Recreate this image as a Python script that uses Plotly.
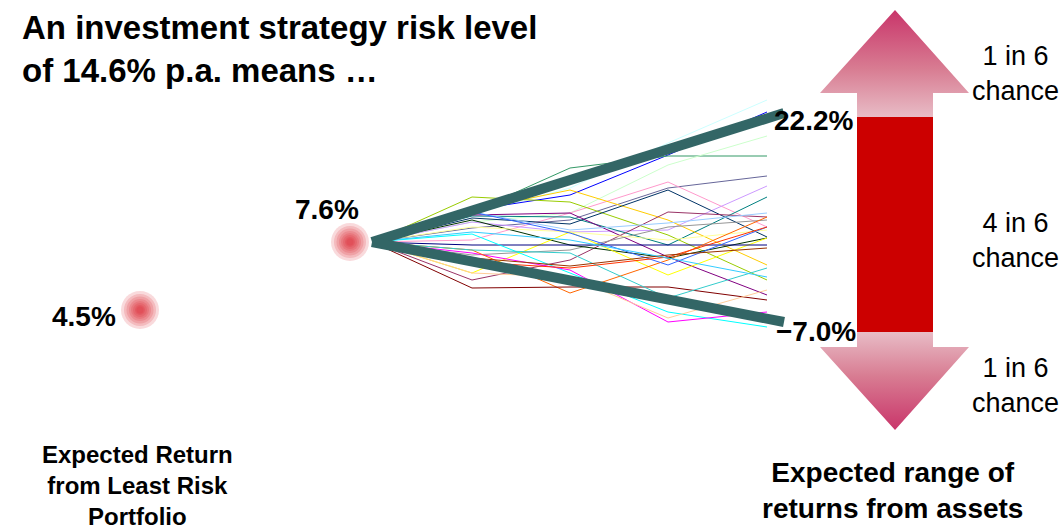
import plotly.graph_objects as go

# ---- data (canvas units: x right, y down) ----
fan_x = [372, 472, 570, 668, 767]
fan_paths = {
    "#CCFFFF": [242, 214, 188, 143, 100],
    "#0000FF": [242, 210, 195, 155, 112],
    "#339966": [242, 212, 168, 156, 156],
    "#CCFFCC": [242, 222, 213, 165, 136],
    "#666699": [242, 228, 220, 188, 176],
    "#FF99CC": [242, 240, 213, 182, 227],
    "#CC99FF": [242, 222, 232, 230, 186],
    "#008080": [242, 216, 217, 245, 197],
    "#99CC00": [242, 197, 202, 235, 280],
    "#FFCC00": [242, 210, 190, 220, 265],
    "#003366": [242, 218, 224, 190, 237],
    "#800080": [242, 215, 213, 257, 295],
    "#993366": [242, 280, 260, 212, 217],
    "#99CCFF": [242, 212, 230, 223, 213],
    "#969696": [242, 255, 250, 227, 220],
    "#003300": [242, 220, 245, 258, 238],
    "#FFFF00": [242, 273, 232, 275, 238],
    "#FFFF99": [242, 227, 232, 240, 230],
    "#000080": [242, 245, 245, 245, 245],
    "#00FFFF": [242, 234, 273, 312, 327],
    "#FF00FF": [242, 253, 270, 322, 312],
    "#FF6600": [242, 250, 293, 260, 217],
    "#800000": [242, 288, 287, 287, 300],
    "#FFCC99": [242, 273, 277, 318, 290],
    "#3366FF": [242, 212, 233, 265, 227],
    "#33CCCC": [242, 250, 253, 298, 268],
    "#FF3300": [242, 262, 268, 257, 227],
    "#993300": [242, 258, 266, 255, 248],
    "#33CCFF": [242, 232, 240, 258, 277],
}
band_x = [372, 784]
band_upper = [242, 113]
band_lower = [242, 322]

points_x = [140, 350]
points_y = [310, 242]
point_labels = ["4.5%", "7.6%"]

band_labels = ["22.2%", "\u22127.0%"]
chance_labels = ["1 in 6<br>chance", "4 in 6<br>chance", "1 in 6<br>chance"]

# arrow geometry
ax_c = 895
shaft_l, shaft_r = 857, 933
head_l, head_r = 820, 969
up_tip, up_base, range_top = 10, 93, 117
range_bot, dn_base, dn_tip = 332, 347, 430

FONT = "Liberation Sans, Arial, sans-serif"

fig = go.Figure()

for col, ys in fan_paths.items():
    fig.add_trace(go.Scatter(x=fan_x, y=ys, mode="lines",
                             line=dict(color=col, width=1), hoverinfo="skip"))

for ys in (band_upper, band_lower):
    fig.add_trace(go.Scatter(x=band_x, y=ys, mode="lines",
                             line=dict(color="#336666", width=10), hoverinfo="skip"))

# glowing dots: stacked translucent discs
for sz in [38, 32, 27, 22, 18, 14, 10, 7]:
    fig.add_trace(go.Scatter(x=points_x, y=points_y, mode="markers",
                             marker=dict(size=sz, color="rgba(215,25,35,0.16)",
                                         line=dict(width=0)),
                             hoverinfo="skip"))

# up arrow
up_x = [shaft_l, shaft_l, head_l, ax_c, head_r, shaft_r, shaft_r, shaft_l]
up_y = [range_top, up_base, up_base, up_tip, up_base, up_base, range_top, range_top]
fig.add_trace(go.Scatter(x=up_x, y=up_y, mode="lines", fill="toself",
                         line=dict(width=0, color="rgba(0,0,0,0)"),
                         fillgradient=dict(type="vertical",
                                           colorscale=[[0, "#C9356A"], [0.55, "#D87C92"], [1, "#E8BCC6"]],
                                           start=up_tip, stop=range_top),
                         hoverinfo="skip"))
# down arrow
dn_x = [shaft_l, shaft_l, head_l, ax_c, head_r, shaft_r, shaft_r, shaft_l]
dn_y = [range_bot, dn_base, dn_base, dn_tip, dn_base, dn_base, range_bot, range_bot]
fig.add_trace(go.Scatter(x=dn_x, y=dn_y, mode="lines", fill="toself",
                         line=dict(width=0, color="rgba(0,0,0,0)"),
                         fillgradient=dict(type="vertical",
                                           colorscale=[[0, "#E8BCC6"], [0.45, "#D87C92"], [1, "#C9356A"]],
                                           start=range_bot, stop=dn_tip),
                         hoverinfo="skip"))
# middle red bar
fig.add_trace(go.Scatter(x=[shaft_l, shaft_r, shaft_r, shaft_l, shaft_l],
                         y=[range_top, range_top, range_bot, range_bot, range_top],
                         mode="lines", fill="toself", fillcolor="#CC0000",
                         line=dict(width=0, color="#CC0000"), hoverinfo="skip"))

ann = []
def add_text(x, y, text, size, bold=False, xanchor="center", align="center"):
    ann.append(dict(x=x, y=y, xref="x", yref="y", text=f"<b>{text}</b>" if bold else text,
                    showarrow=False, xanchor=xanchor, yanchor="middle", align=align,
                    font=dict(family=FONT, size=size, color="#000000")))

add_text(20, 49, "An investment strategy risk level<br>of 14.6% p.a. means \u2026", 33, True, "left", "left")
add_text(84, 316, point_labels[0], 28, True)
add_text(327, 209, point_labels[1], 28, True)
add_text(813, 120, band_labels[0], 28, True)
add_text(816, 331, band_labels[1], 28, True)
add_text(1015, 73, chance_labels[0], 27)
add_text(1015, 240, chance_labels[1], 27)
add_text(1015, 385, chance_labels[2], 27)
add_text(137, 485, "Expected Return<br>from Least Risk<br>Portfolio", 24, True)
add_text(892, 490, "Expected range of<br>returns from assets", 28, True)

fig.update_layout(
    width=1064, height=532, margin=dict(l=0, r=0, t=0, b=0),
    paper_bgcolor="white", plot_bgcolor="white", showlegend=False,
    xaxis=dict(range=[0, 1064], visible=False, fixedrange=True),
    yaxis=dict(range=[532, 0], visible=False, fixedrange=True),
    annotations=ann,
)
fig.write_html("out.html")
